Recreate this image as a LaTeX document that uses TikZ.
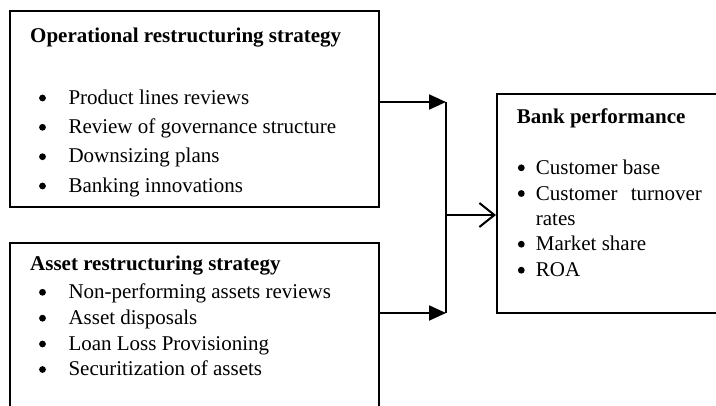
\documentclass[tikz,border=0pt]{standalone}
\usepackage{fontspec}
\setmainfont{Liberation Serif}
\usetikzlibrary{arrows.meta}
\begin{document}
\begin{tikzpicture}[x=1pt,y=-1pt,
  box/.style={draw, line width=1.5pt, inner sep=0pt, anchor=north west},
  txt/.style={anchor=base west, inner sep=0pt, font=\fontsize{21}{25}\selectfont},
  head/.style={txt, font=\fontsize{21}{25}\selectfont\bfseries},
  dot/.style={circle, fill, inner sep=0pt, minimum size=6.8pt},
  link/.style={line width=2pt},
  feed/.style={link, -{Triangle[length=17pt,width=15pt]}},
  into/.style={link, -{Straight Barb[length=15pt,width=24pt,line width=2pt]}}]
\useasboundingbox (0,0) rectangle (716,405);
\clip (0,0) rectangle (716,405);

% the three boxes
\node[box, minimum width=369pt, minimum height=196pt] (ops) at (9,10) {};
\node[box, minimum width=369pt, minimum height=180pt] (asset) at (9,242) {};
\node[box, minimum width=240pt, minimum height=219pt] (perf) at (496,93) {};

% operational restructuring strategy
\node[head] (opsT) at (30,42) {Operational restructuring strategy};
\foreach \y/\t [count=\i] in {104/Product lines reviews,
    133.3/Review of governance structure,
    162.7/Downsizing plans,
    192/Banking innovations}{
  \node[dot] (opsB\i) at (42.5,\y-6) {};
  \node[txt] (opsI\i) at (68.3,\y) {\t};
}

% asset restructuring strategy
\node[head] (assetT) at (30,270) {Asset restructuring strategy};
\foreach \y/\t [count=\i] in {298.3/Non-performing assets reviews,
    324.2/Asset disposals,
    350/Loan Loss Provisioning,
    375.5/Securitization of assets}{
  \node[dot] (assetB\i) at (42.5,\y-6) {};
  \node[txt] (assetI\i) at (68.3,\y) {\t};
}

% bank performance
\node[head] (perfT) at (516.7,123.3) {Bank performance};
\node[dot] (perfB1) at (521.3,167.8) {};
\node[txt] (perfI1) at (535.7,174.3) {Customer base};
\node[dot] (perfB2) at (521.3,193.5) {};
\node[txt] (perfI2) at (535.7,200) {\hbox to 166pt{Customer\hfill turnover}};
\node[txt] (perfI2b) at (535.7,225.3) {rates};
\node[dot] (perfB3) at (521.3,244.2) {};
\node[txt] (perfI3) at (535.7,250.7) {Market share};
\node[dot] (perfB4) at (521.3,270.2) {};
\node[txt] (perfI4) at (535.7,276.7) {ROA};

% connectors
\coordinate (j1) at (446,102);
\coordinate (j2) at (446,313);
\coordinate (jm) at (446,215);
\draw[feed] (ops.east |- j1) -- (j1);
\draw[feed] (asset.east |- j2) -- (j2);
\draw[link] (j1) -- (j2);
\draw[into] (jm) -- (perf.west |- jm);
\end{tikzpicture}
\end{document}
